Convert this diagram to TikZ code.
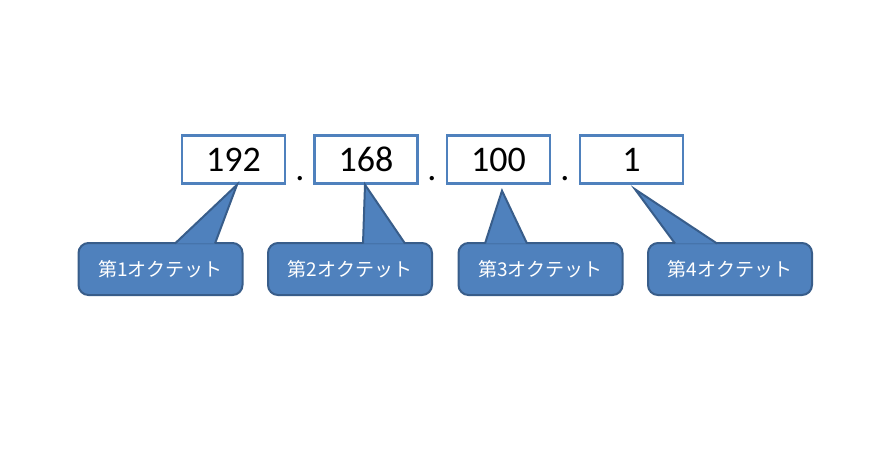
\documentclass[tikz,border=0pt]{standalone}
\usepackage{fontspec}
\setmainfont{Carlito}
\newfontfamily\jpfont{Noto Sans CJK JP}
\usetikzlibrary{calc,positioning}
\definecolor{octblue}{HTML}{4F81BD}
\definecolor{octedge}{HTML}{385D8A}

\begin{document}
\begin{tikzpicture}[x=1pt, y=-1pt,
    numbox/.style={draw=octblue, line width=2.5pt, minimum width=103pt, minimum height=48pt,
        inner sep=0pt, font=\fontsize{36}{36}\selectfont},
    sepdot/.style={anchor=base, inner sep=0pt, font=\fontsize{36}{36}\selectfont},
    bubble/.style={fill=octblue, draw=octedge, line width=2pt, rounded corners=10pt,
        minimum width=164pt, minimum height=52pt, inner sep=0pt, text=white,
        font=\jpfont\fontsize{19}{19}\selectfont},
    tail/.style={fill=octblue, draw=octedge, line width=2pt, line join=miter}]

    \useasboundingbox (0,0) rectangle (874,459);

    % address octets
    \node[numbox] (b1) at (233.5,159.5) {192};
    \node[numbox] (b2) at (366,159.5) {168};
    \node[numbox] (b3) at (498.5,159.5) {100};
    \node[numbox] (b4) at (631.5,159.5) {1};

    \node[sepdot] (d1) at (300,180) {.};
    \node[sepdot] (d2) at (432,180) {.};
    \node[sepdot] (d3) at (565,180) {.};

    % callouts
    \node[bubble] (c1) at (160.5,269) {第1オクテット};
    \node[bubble] (c2) at (350,269) {第2オクテット};
    \node[bubble] (c3) at (540.5,269) {第3オクテット};
    \node[bubble] (c4) at (730,269) {第4オクテット};

    \filldraw[tail] ($(c1.north)+(14.5,1.5)$) -- ($(b1.south)+(3.5,0)$) -- ($(c1.north)+(54.5,1.5)$);
    \filldraw[tail] ($(c2.north)+(13,1.5)$) -- ($(b2.south)+(-1,0)$) -- ($(c2.north)+(55,1.5)$);
    \filldraw[tail] ($(c3.north)+(-55.5,1.5)$) -- ($(b3.south)+(3.5,6)$) -- ($(c3.north)+(-13.5,1.5)$);
    \filldraw[tail] ($(c4.north)+(-55,1.5)$) -- ($(b4.south)+(3.5,4.5)$) -- ($(c4.north)+(-13,1.5)$);

\end{tikzpicture}
\end{document}
